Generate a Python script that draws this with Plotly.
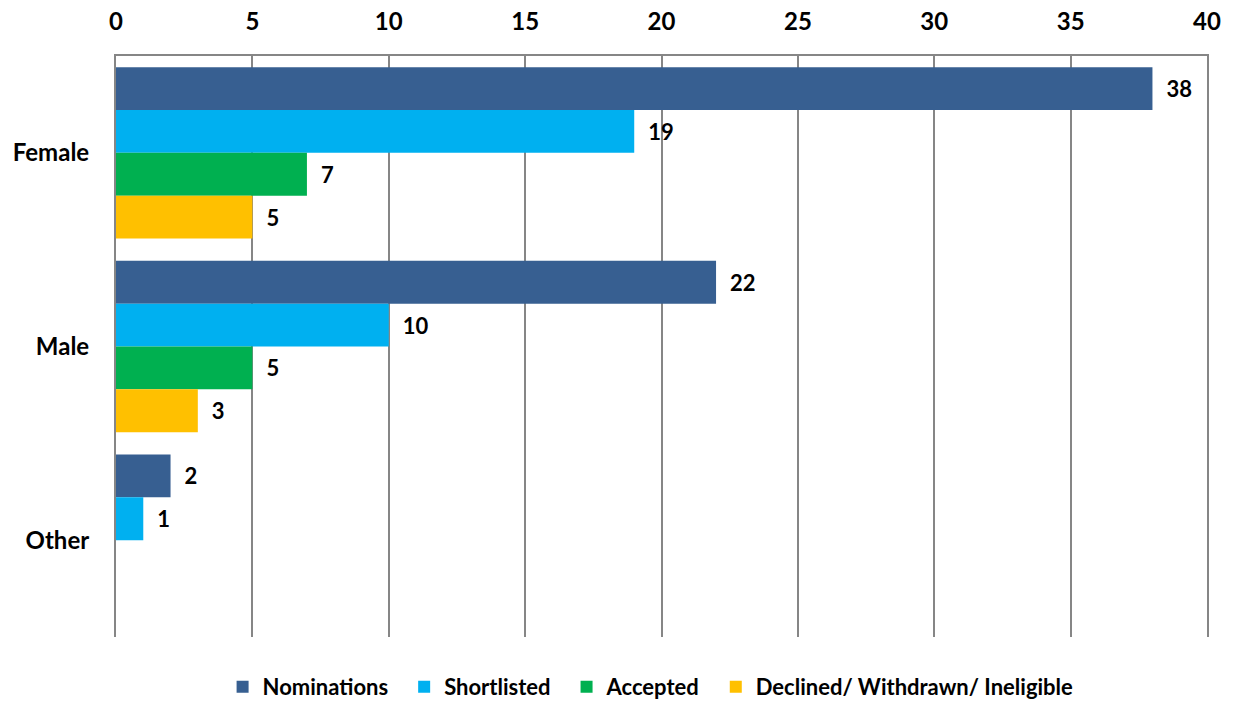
import plotly.graph_objects as go

categories = ["Female", "Male", "Other"]
series_names = ["Nominations", "Shortlisted", "Accepted", "Declined/ Withdrawn/ Ineligible"]
nominations = [38, 22, 2]
shortlisted = [19, 10, 1]
accepted = [7, 5, 0]
declined = [5, 3, 0]
colors = ["#375F91", "#00B0F0", "#00B050", "#FFC000"]
x_ticks = [0, 5, 10, 15, 20, 25, 30, 35, 40]

FONT = "Lato, 'Open Sans', sans-serif"

fig = go.Figure()
all_vals = [nominations, shortlisted, accepted, declined]
for i, (name, vals, col) in enumerate(zip(series_names, all_vals, colors)):
    fig.add_trace(go.Bar(
        y=categories, x=vals,
        name=name + ("\u2002" if i < len(series_names) - 1 else ""),
        orientation="h",
        marker=dict(color=col, line=dict(width=0)),
        text=["\u2002" + str(v) if v else "" for v in vals],
        textposition="outside",
        textfont=dict(family=FONT, size=22, color="#000000", weight="bold"),
        cliponaxis=False,
    ))

fig.update_layout(
    width=1234, height=702,
    barmode="group", bargap=0.115, bargroupgap=0,
    plot_bgcolor="white", paper_bgcolor="white",
    margin=dict(l=116, r=27, t=56, b=65),
    font=dict(family=FONT, size=24, color="#000000", weight="bold"),
    xaxis=dict(side="top", range=[0, 40], tickvals=x_ticks, ticktext=[str(t) for t in x_ticks],
               showgrid=True, gridcolor="#868686", gridwidth=2,
               showline=True, linecolor="#868686", linewidth=2,
               zeroline=False, ticks="", ticklabelstandoff=14, automargin=False,
               tickfont=dict(family=FONT, size=24, weight="bold")),
    yaxis=dict(categoryorder="array", categoryarray=categories, autorange="reversed",
               showline=True, linecolor="#868686", linewidth=2, mirror=True,
               showgrid=False, ticks="", ticklabelstandoff=20, automargin=False,
               tickfont=dict(family=FONT, size=24, weight="bold")),
    legend=dict(orientation="h", x=0.49, xanchor="center",
                yref="container", y=15 / 702, yanchor="middle",
                font=dict(family=FONT, size=22, weight="bold"), itemwidth=30,
                tracegroupgap=0, traceorder="normal"),
    showlegend=True,
)

fig.write_html("out.html", config={"displayModeBar": False},
               post_script="document.body.style.margin='0';document.body.style.overflow='hidden';")
